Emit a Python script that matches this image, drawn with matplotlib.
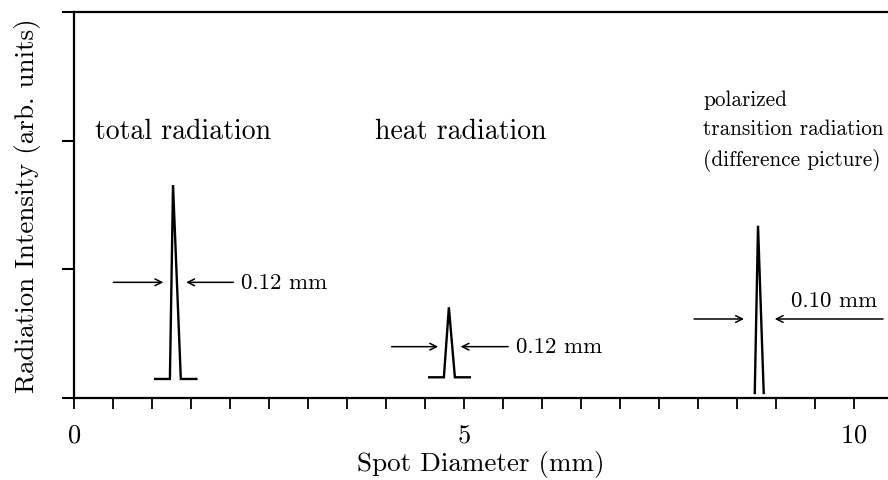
import matplotlib
matplotlib.use("Agg")
import matplotlib.pyplot as plt

plt.rcParams["font.family"] = "cmr10"
plt.rcParams["mathtext.fontset"] = "cm"
plt.rcParams["axes.formatter.use_mathtext"] = True

# spot profiles (x in mm, intensity in arb. units)
total_x = [1.04, 1.23, 1.27, 1.37, 1.57]
total_y = [0.148, 0.148, 1.655, 0.148, 0.148]
heat_x = [4.555, 4.744, 4.808, 4.885, 5.077]
heat_y = [0.161, 0.161, 0.705, 0.161, 0.161]
ptr_x = [8.731, 8.773, 8.846]
ptr_y = [0.039, 1.339, 0.039]

# FWHM markers: (left arrow from, to), (right arrow from, to), height, label
fwhm_left = [(0.505, 1.146), (4.073, 4.671), (7.953, 8.594)]
fwhm_right = [(2.045, 1.438), (5.568, 4.958), (10.376, 8.987)]
fwhm_y = [0.899, 0.399, 0.614]
fwhm_text = ["0.12 mm", "0.12 mm", "0.10 mm"]
fwhm_text_x = [2.14, 5.667, 9.201]
fwhm_text_y = [0.899, 0.399, 0.756]

titles = ["total radiation", "heat radiation",
          "polarized\ntransition radiation\n(difference picture)"]
title_x = [0.27, 3.86, 8.07]
title_size = [20, 20, 15.3]
title_y = 2.08

fig = plt.figure(figsize=(8.88, 4.81), dpi=100)
ax = fig.add_axes([74 / 888, 82 / 481, 1 - 74 / 888, (399 - 13) / 481])

for xs, ys in [(total_x, total_y), (heat_x, heat_y), (ptr_x, ptr_y)]:
    ax.plot(xs, ys, color="black", lw=1.7, solid_joinstyle="miter")

arrow = dict(arrowstyle="->", color="black", lw=1.1,
             shrinkA=0, shrinkB=0, mutation_scale=12)
for (l0, l1), (r0, r1), y in zip(fwhm_left, fwhm_right, fwhm_y):
    ax.annotate("", xy=(l1, y), xytext=(l0, y), arrowprops=arrow,
                annotation_clip=False)
    ax.annotate("", xy=(r1, y), xytext=(r0, y), arrowprops=arrow,
                annotation_clip=False)
for tx, ty, s in zip(fwhm_text_x, fwhm_text_y, fwhm_text):
    ax.text(tx, ty, s, fontsize=16.5, va="center", ha="left")

for tx, s, fs in zip(title_x, titles, title_size):
    ax.text(tx, title_y, s, fontsize=fs, va="center", ha="left",
            linespacing=1.6)

ax.set_xlim(0, 10.44)
ax.set_ylim(0, 3)
ax.set_xticks([0, 5, 10])
ax.set_xticks([i * 0.5 for i in range(21)], minor=True)
ax.set_yticks([0, 1, 2, 3])
ax.set_yticklabels([])
ax.tick_params(axis="x", which="both", direction="out", length=8,
               width=1.3, labelsize=19, pad=10, top=False)
ax.tick_params(axis="y", direction="out", length=9, width=1.5)
ax.spines["right"].set_visible(False)
for s in ("left", "bottom", "top"):
    ax.spines[s].set_linewidth(1.6)

ax.set_xlabel("Spot Diameter (mm)", fontsize=19.5, labelpad=2)
ax.set_ylabel("Radiation Intensity (arb. units)", fontsize=19.5, labelpad=11)

fig.savefig("out.png", dpi=100)
